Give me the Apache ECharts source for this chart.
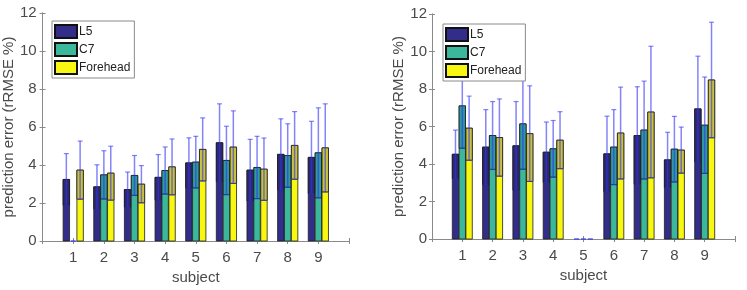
<!DOCTYPE html>
<html>
<head>
<meta charset="utf-8">
<script src="https://cdn.jsdelivr.net/npm/echarts@6/dist/echarts.min.js"></script>
<style>
  html, body { margin: 0; padding: 0; background: #fff; }
  #chart { width: 747px; height: 290px; }
</style>
</head>
<body>
<div id="chart"></div>
<script>
// subjects on the x axis
const subjects = [1, 2, 3, 4, 5, 6, 7, 8, 9]
const groupNames = ['L5', 'C7', 'Forehead']

// left panel: mean and std of rRMSE (%)
const leftL5Mean = [3.24, 2.85, 2.71, 3.35, 4.11, 5.17, 3.73, 4.56, 4.40]
const leftL5Std = [1.36, 1.16, 0.92, 1.20, 1.32, 2.05, 1.62, 1.87, 1.90]
const leftC7Mean = [0, 3.48, 3.45, 3.71, 4.15, 4.24, 3.87, 4.50, 4.64]
const leftC7Std = [0, 1.27, 1.05, 1.24, 1.36, 1.80, 1.64, 1.67, 2.37]
const leftFhMean = [3.73, 3.57, 2.99, 3.90, 4.82, 4.94, 3.78, 5.03, 4.90]
const leftFhStd = [1.53, 1.42, 0.98, 1.47, 1.66, 1.91, 1.64, 1.78, 2.32]

// right panel
const rightL5Mean = [4.52, 4.90, 4.97, 4.63, 0, 4.54, 5.52, 4.22, 6.94]
const rightL5Std = [1.29, 2.00, 2.36, 1.61, 0, 2.01, 2.60, 1.47, 2.81]
const rightC7Mean = [7.10, 5.52, 6.14, 4.81, 0, 4.90, 5.81, 4.79, 6.07]
const rightC7Std = [2.26, 1.81, 2.42, 1.51, 0, 2.00, 2.61, 1.75, 2.57]
const rightFhMean = [5.91, 5.41, 5.62, 5.27, 0, 5.65, 6.77, 4.74, 8.48]
const rightFhStd = [1.71, 2.06, 2.55, 1.52, 0, 2.45, 3.51, 1.23, 3.08]

const yTicks = [0, 2, 4, 6, 8, 10, 12]

const barColors = ['#312d88', '#3bb89b', '#f7f711']
const shadeColors = ['#2c2972', '#2f9a9f', '#c9c23f']
const errColor = 'rgba(50,50,245,0.6)'
const axisColor = '#8a8a8a'
const textColor = '#4a4a4a'
const font = '"Liberation Sans", Arial, sans-serif'

const chart = echarts.init(document.getElementById('chart'))

function makeRender(k) {
  return function (params, api) {
    const subj = api.value(0)
    const mean = api.value(1)
    const sd = api.value(2)
    const unit = api.size([1, 0])[0]
    const base = api.coord([subj, 0])
    const x = base[0] + (k - 1) * 0.225 * unit
    const bw = 0.21 * unit
    const y0 = base[1]
    const ym = api.coord([subj, mean])[1]
    const ylo = api.coord([subj, mean - sd])[1]
    const yhi = api.coord([subj, mean + sd])[1]
    const children = []
    if (mean > 0) {
      children.push({
        type: 'rect',
        shape: { x: x - bw / 2, y: ym, width: bw, height: y0 - ym },
        style: { fill: barColors[k], stroke: '#1e1e1e', lineWidth: 0.8 }
      })
      children.push({
        type: 'rect',
        shape: { x: x - bw / 2, y: ym, width: bw, height: ylo - ym },
        style: { fill: shadeColors[k], stroke: '#1e1e1e', lineWidth: 0.8 }
      })
    }
    children.push({
      type: 'line',
      shape: { x1: x, y1: ylo, x2: x, y2: yhi },
      style: { stroke: errColor, lineWidth: 1.5 }
    })
    children.push({
      type: 'line',
      shape: { x1: x - 2.5, y1: yhi, x2: x + 2.5, y2: yhi },
      style: { stroke: errColor, lineWidth: 1.2 }
    })
    children.push({
      type: 'line',
      shape: { x1: x - 2.5, y1: ylo, x2: x + 2.5, y2: ylo },
      style: { stroke: errColor, lineWidth: 1.2 }
    })
    return { type: 'group', children }
  }
}

function seriesFor(panel, means, stds) {
  return means.map((m, k) => ({
    name: groupNames[k],
    type: 'custom',
    xAxisIndex: panel * 2,
    yAxisIndex: panel * 2,
    itemStyle: { color: barColors[k], borderColor: '#111', borderWidth: 1 },
    renderItem: makeRender(k),
    encode: { x: 0, y: 1 },
    data: subjects.map((s, i) => [s, m[i], stds[k][i]]),
    z: 2
  }))
}

const grids = [
  { left: 42, right: 398, top: 13, bottom: 49 },
  { left: 432, right: 12, top: 14, bottom: 51 }
]

const xAxes = []
const yAxes = []
grids.forEach((g, p) => {
  xAxes.push({
    type: 'value', gridIndex: p, min: 0, max: 10, interval: 1, position: 'bottom',
    name: 'subject', nameLocation: 'middle', nameGap: p === 0 ? 29 : 28,
    nameTextStyle: { color: textColor, fontSize: 15, fontFamily: font },
    axisLine: { lineStyle: { color: axisColor } },
    axisTick: { length: 3, lineStyle: { color: axisColor } },
    axisLabel: {
      color: textColor, fontSize: 15, fontFamily: font, margin: 9,
      formatter: v => (subjects.includes(v) ? String(v) : '')
    },
    splitLine: { show: false }
  })
  xAxes.push({
    type: 'value', gridIndex: p, min: 0, max: 10, interval: 1, position: 'top',
    axisLine: { lineStyle: { color: axisColor } },
    axisTick: { length: 3, lineStyle: { color: axisColor } },
    axisLabel: { show: false },
    splitLine: { show: false }
  })
  yAxes.push({
    type: 'value', gridIndex: p, min: 0, max: 12, interval: 2, position: 'left',
    name: 'prediction error (rRMSE %)', nameLocation: 'middle', nameGap: p === 0 ? 19 : 17,
    nameTextStyle: { color: textColor, fontSize: 15, fontFamily: font },
    axisLine: { show: true, lineStyle: { color: axisColor } },
    axisTick: { show: true, length: 3, lineStyle: { color: axisColor } },
    axisLabel: {
      color: textColor, fontSize: 15, fontFamily: font, margin: p === 0 ? 6 : 5,
      formatter: v => (yTicks.includes(v) ? String(v) : '')
    },
    splitLine: { show: false }
  })
  yAxes.push({
    type: 'value', gridIndex: p, min: 0, max: 12, interval: 2, position: 'right',
    axisLine: { show: true, lineStyle: { color: axisColor } },
    axisTick: { show: true, length: 3, lineStyle: { color: axisColor } },
    axisLabel: { show: false },
    splitLine: { show: false }
  })
})

const legendBase = {
  orient: 'vertical',
  data: groupNames,
  icon: 'rect',
  itemWidth: 22,
  itemHeight: 13,
  itemGap: 3,
  padding: [3, 4, 3, 2],
  backgroundColor: '#fff',
  borderColor: axisColor,
  borderWidth: 1,
  borderRadius: 0,
  selectedMode: false,
  textStyle: { color: '#222', fontSize: 12, fontFamily: font, padding: [0, 0, 0, -3] },
  z: 10
}

chart.setOption({
  animation: false,
  grid: grids,
  xAxis: xAxes,
  yAxis: yAxes,
  legend: [
    Object.assign({}, legendBase, { left: 52, top: 21 }),
    Object.assign({}, legendBase, { left: 443, top: 24 })
  ],
  series: [
    ...seriesFor(0, [leftL5Mean, leftC7Mean, leftFhMean], [leftL5Std, leftC7Std, leftFhStd]),
    ...seriesFor(1, [rightL5Mean, rightC7Mean, rightFhMean], [rightL5Std, rightC7Std, rightFhStd])
  ]
})
</script>
</body>
</html>
